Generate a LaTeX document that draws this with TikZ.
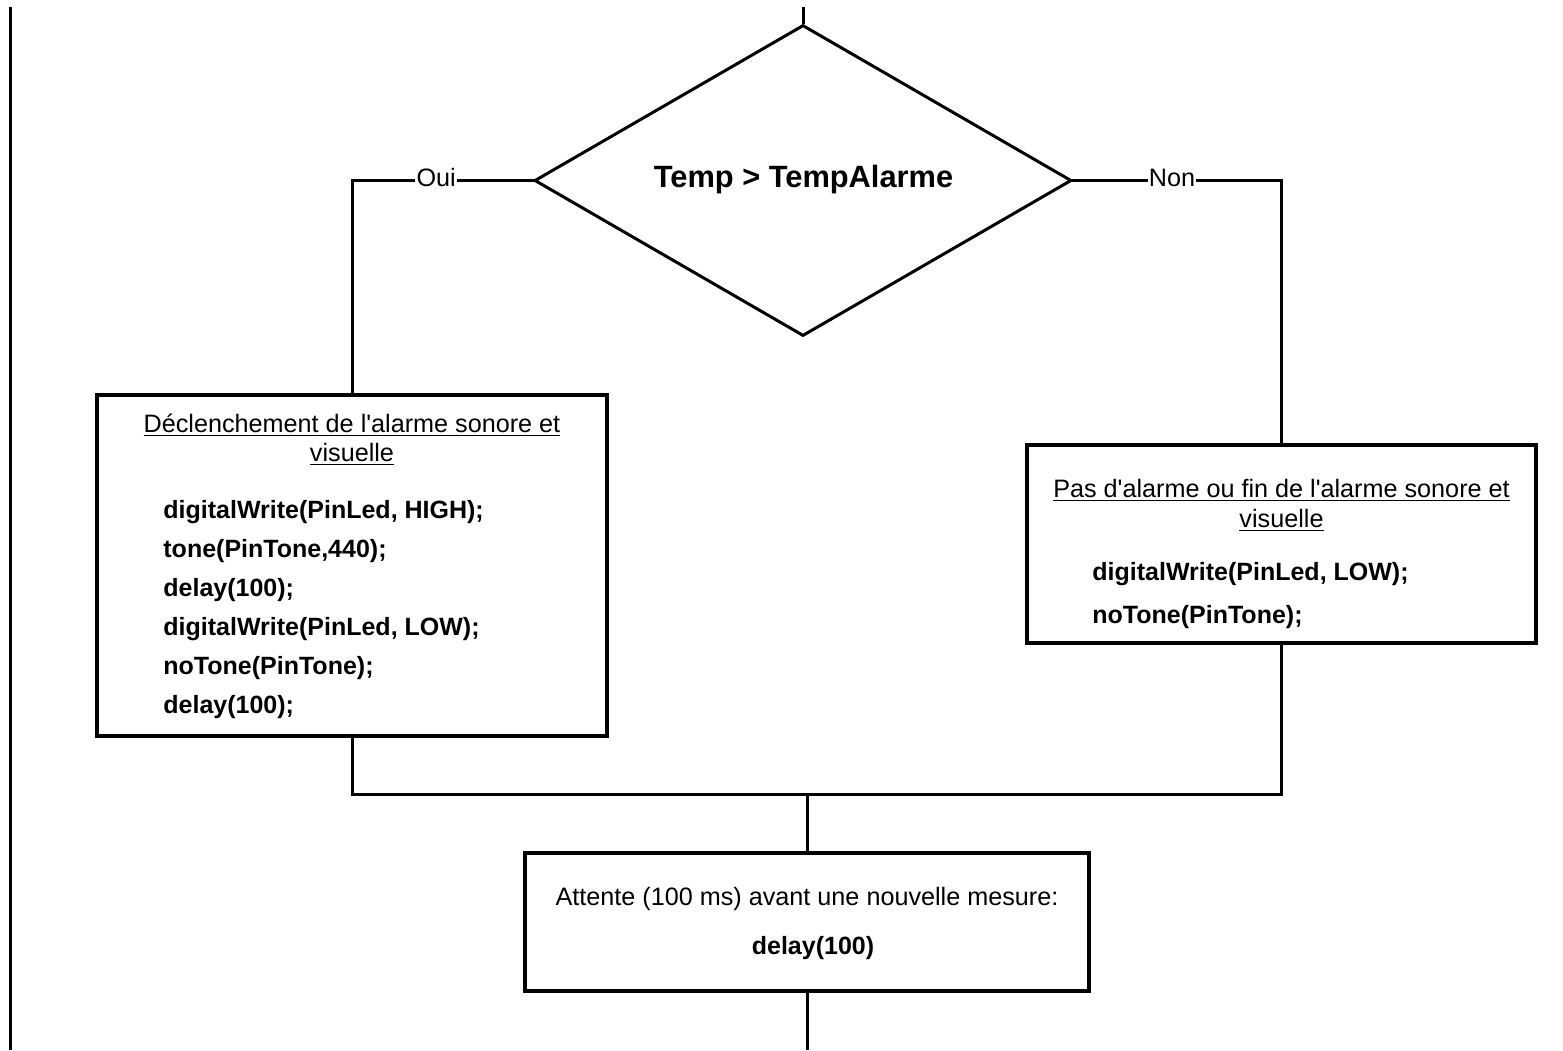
\documentclass[tikz,border=0pt]{standalone}
\usepackage{fontspec}
\setmainfont{Liberation Sans}[Ligatures=TeXOff]
\usetikzlibrary{shapes.geometric,calc}
\begin{document}
\begin{tikzpicture}[x=0.5pt,y=-0.5pt,
  conn/.style={line width=1.5pt,line cap=rect},
  boxst/.style={draw,line width=1.6pt,rectangle,inner sep=0pt},
  decision/.style={draw,line width=1.5pt,diamond,inner sep=0pt,aspect=1.727,
     minimum width=268.5pt,minimum height=155.5pt},
  lbl/.style={fill=white,inner sep=0.6pt,yshift=1.4pt,font=\fontsize{12.6}{15}\selectfont},
  ttl/.style={anchor=base,inner sep=0pt,font=\fontsize{12.6}{15}\selectfont},
  code/.style={anchor=base west,inner sep=0pt,font=\bfseries\fontsize{12.5}{15}\selectfont},
  plain/.style={anchor=base,inner sep=0pt,font=\fontsize{12.6}{15}\selectfont}
]
\useasboundingbox (0,0) rectangle (1563,1050);
\fill[white] (0,0) rectangle (1563,1050);

% left vertical line
\coordinate (ltop) at (10,7);
\coordinate (lbot) at (10,1050);
\draw[conn,line cap=butt] (ltop) -- (lbot);

% decision
\node[decision] (d) at (803,180.5) {};
\node[font=\bfseries\fontsize{15.4}{18}\selectfont,anchor=base,inner sep=0pt] (dt) at (803.5,187) {Temp > TempAlarme};
\coordinate (dtop) at (803,7);
\draw[conn,line cap=butt] (dtop) -- (d.north);

% left box
\node[boxst,minimum width=255pt,minimum height=170.5pt] (lb) at (352,565.5) {};
\node[ttl] (lt1) at (352,432) {\underline{Déclenchement de l'alarme sonore et}};
\node[ttl] (lt2) at (352,461) {\underline{visuelle}};
\node[code] (lc1) at (163,518) {digitalWrite(PinLed, HIGH);};
\node[code] (lc2) at (163,557) {tone(PinTone,440);};
\node[code] (lc3) at (163,596) {delay(100);};
\node[code] (lc4) at (163,635) {digitalWrite(PinLed, LOW);};
\node[code] (lc5) at (163,674) {noTone(PinTone);};
\node[code] (lc6) at (163,713) {delay(100);};

% right box
\node[boxst,minimum width=254.5pt,minimum height=99pt] (rb) at (1281.5,544) {};
\node[ttl] (rt1) at (1281.5,497) {\underline{Pas d'alarme ou fin de l'alarme sonore et}};
\node[ttl] (rt2) at (1281.5,527) {\underline{visuelle}};
\node[code] (rc1) at (1092,580) {digitalWrite(PinLed, LOW);};
\node[code] (rc2) at (1092,623) {noTone(PinTone);};

% bottom box
\node[boxst,minimum width=282pt,minimum height=69pt] (bb) at (807,922) {};
\node[plain] (bt1) at (807,905) {Attente (100 ms) avant une nouvelle mesure:};
\node[plain,font=\bfseries\fontsize{12.5}{15}\selectfont] (bt2) at (813,954) {delay(100)};

% connectors
\draw[conn] (d.west) -- node[lbl,pos=0.535]{Oui} (d.west -| lb.north) -- (lb.north);
\draw[conn] (d.east) -- node[lbl,pos=0.475]{Non} (d.east -| rb.north) -- (rb.north);
\coordinate (m) at (807,794);
\draw[conn] (lb.south) |- (m) -| (rb.south);
\draw[conn] (m) -- (bb.north);
\coordinate (bend) at (807,1050);
\draw[conn,line cap=butt] (bb.south) -- (bend);
\end{tikzpicture}
\end{document}
